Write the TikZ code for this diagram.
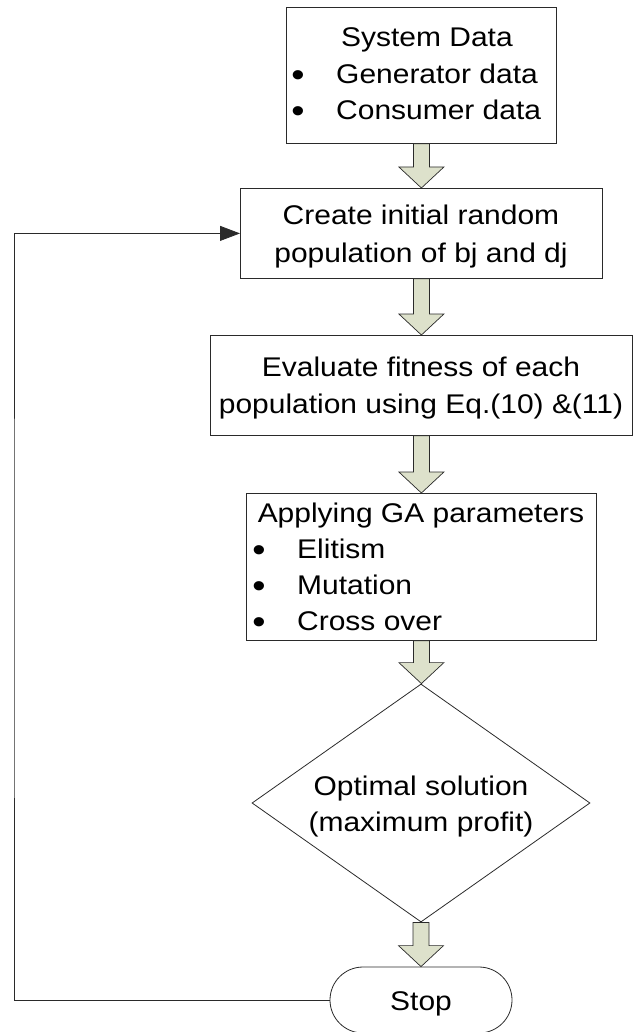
\documentclass[tikz,border=0pt]{standalone}
\usepackage{fontspec}
\setmainfont{Liberation Sans}[FakeStretch=1.11]
\usetikzlibrary{arrows.meta,shapes.geometric,calc}
\definecolor{arrowfill}{HTML}{DDE1CB}
\definecolor{edge}{HTML}{2A2A2A}
\tikzset{
  box/.style={draw=edge, line width=0.8pt, fill=white, inner sep=0pt, anchor=north west},
  txt/.style={font=\fontsize{27}{37}\selectfont, inner sep=0pt, anchor=base, text=black},
  ltxt/.style={txt, anchor=base west},
  bul/.style={font=\fontsize{34}{37}\selectfont, inner sep=0pt, anchor=base, text=black},
  barrow/.style={draw=edge, line width=0.7pt, fill=arrowfill, line join=miter},
  link/.style={draw=edge, line width=0.8pt}
}
\newcommand\blockarr[2]{%
  \draw[barrow] let \p1=(#1.south), \p2=(#2.north) in
    (\x1-8pt,\y1) -- (\x1+8pt,\y1) -- (\x1+8pt,\y2+21pt) -- (\x1+22.5pt,\y2+21pt)
    -- (\x1,\y2) -- (\x1-22.5pt,\y2+21pt) -- (\x1-8pt,\y2+21pt) -- cycle;}
\begin{document}
\begin{tikzpicture}[x=1pt,y=-1pt]
\useasboundingbox (0,0) rectangle (634,1032);
% boxes
\node[box, minimum width=270, minimum height=136] (sys) at (286,7) {};
\node[box, minimum width=362, minimum height=90] (crt) at (240,188) {};
\node[box, minimum width=422, minimum height=100] (evl) at (210,335) {};
\node[box, minimum width=350, minimum height=147] (ga) at (246,493) {};
\node[draw=edge, line width=0.8pt, diamond, inner sep=0pt, minimum width=338, minimum height=238] (opt) at (421,803) {};
\node[draw=edge, line width=0.8pt, rectangle, rounded corners=33pt, inner sep=0pt, minimum width=182, minimum height=66] (stop) at (421,1000) {};
% texts
\node[ltxt] (t1) at (341,47) {System Data};
\node[bul] (b1) at (298,87) {•};
\node[ltxt] (t2) at (336,84) {Generator data};
\node[bul] (b2) at (298,123) {•};
\node[ltxt] (t3) at (336,120) {Consumer data};
\node[txt] (t4) at (421,225) {Create initial random};
\node[txt] (t5) at (421,262) {population of bj and dj};
\node[txt] (t6) at (421,376) {Evaluate fitness of each};
\node[txt] (t7) at (421,413) {population using Eq.(10) \&(11)};
\node[txt] (t8) at (421,522) {Applying GA parameters};
\node[bul] (b3) at (259,561) {•};
\node[ltxt] (t9) at (297,558) {Elitism};
\node[bul] (b4) at (259,597) {•};
\node[ltxt] (t10) at (297,594) {Mutation};
\node[bul] (b5) at (259,633) {•};
\node[ltxt] (t11) at (297,630) {Cross over};
\node[txt] (t12) at (421,795) {Optimal solution};
\node[txt] (t13) at (421,831) {(maximum profit)};
\node[txt] (t14) at (421,1010) {Stop};
% block arrows
\blockarr{sys}{crt}
\blockarr{crt}{evl}
\blockarr{evl}{ga}
\blockarr{ga}{opt}
\blockarr{opt}{stop}
% feedback
\coordinate (fb) at (14,600);
\draw[link, -{Triangle[length=20pt,width=15pt]}] (stop.west) -| (fb) |- (crt.west);
\end{tikzpicture}
\end{document}
